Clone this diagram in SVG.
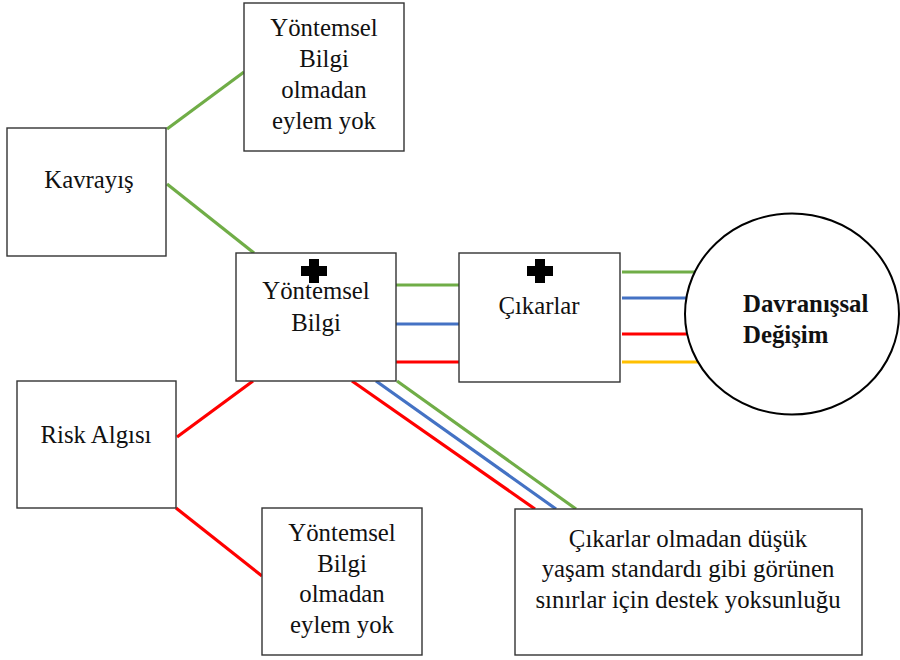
<svg xmlns="http://www.w3.org/2000/svg" width="900" height="660" viewBox="0 0 900 660">
<defs>
<style>
.box{fill:#fff;stroke:#333;stroke-width:1.4}
.t{font-family:"Liberation Serif","Times New Roman",serif;font-size:24.8px;fill:#111;text-anchor:middle}
.b{font-family:"Liberation Serif","Times New Roman",serif;font-size:24.8px;font-weight:bold;fill:#111}
.c{stroke-width:3.2;fill:none}
.g{stroke:#70AD47}.bl{stroke:#4472C4}.r{stroke:#FF0000}.y{stroke:#FFC000}
</style>
<path id="plus" d="M-5,-12H5V-5H13V5H5V12H-5V5H-13V-5H-5Z" fill="#000"/>
</defs>
<rect width="900" height="660" fill="#fff"/>
<g id="connectors">
<line class="c g" x1="167" y1="129" x2="244" y2="72"/>
<line class="c g" x1="167" y1="184" x2="254" y2="253"/>
<line class="c g" x1="396" y1="285" x2="459" y2="285"/>
<line class="c bl" x1="396" y1="324" x2="459" y2="324"/>
<line class="c r" x1="396" y1="362" x2="459" y2="362"/>
<line class="c g" x1="622" y1="272" x2="698" y2="272"/>
<line class="c bl" x1="622" y1="298" x2="687" y2="298"/>
<line class="c r" x1="622" y1="334" x2="687" y2="334"/>
<line class="c y" x1="622" y1="362" x2="698" y2="362"/>
<line class="c r" x1="177" y1="437" x2="253" y2="381"/>
<line class="c r" x1="176" y1="508" x2="262" y2="576"/>
<line class="c r" x1="352" y1="381" x2="535" y2="509"/>
<line class="c bl" x1="376" y1="381" x2="556" y2="509"/>
<line class="c g" x1="397" y1="381" x2="576" y2="509"/>
</g>
<g id="top-box">
<rect class="box" x="244" y="3" width="160" height="148"/>
<text class="t" x="324" y="36">Yöntemsel</text>
<text class="t" x="324" y="67">Bilgi</text>
<text class="t" x="324" y="98">olmadan</text>
<text class="t" x="324" y="129">eylem yok</text>
</g>
<g id="kavrayis">
<rect class="box" x="7" y="128" width="159" height="128"/>
<text class="t" x="89" y="188">Kavrayış</text>
</g>
<g id="yontemsel-bilgi">
<rect class="box" x="236" y="253" width="160" height="128"/>
<use href="#plus" x="314" y="271"/>
<text class="t" x="316" y="299">Yöntemsel</text>
<text class="t" x="316" y="331">Bilgi</text>
</g>
<g id="cikarlar">
<rect class="box" x="459" y="253" width="161" height="129"/>
<use href="#plus" x="540" y="271"/>
<text class="t" x="539" y="314">Çıkarlar</text>
</g>
<g id="davranissal-degisim">
<ellipse cx="792" cy="314" rx="107" ry="100.5" fill="#fff" stroke="#000" stroke-width="2"/>
<text class="b" x="743" y="312">Davranışsal</text>
<text class="b" x="743" y="343">Değişim</text>
</g>
<g id="risk-algisi">
<rect class="box" x="17" y="381" width="159" height="127"/>
<text class="t" x="96" y="443">Risk Algısı</text>
</g>
<g id="bottom-left-box">
<rect class="box" x="262" y="508" width="160" height="147"/>
<text class="t" x="342" y="541">Yöntemsel</text>
<text class="t" x="342" y="572">Bilgi</text>
<text class="t" x="342" y="602">olmadan</text>
<text class="t" x="342" y="633">eylem yok</text>
</g>
<g id="bottom-right-box">
<rect class="box" x="515" y="509" width="347" height="146"/>
<text class="t" x="688" y="547">Çıkarlar olmadan düşük</text>
<text class="t" x="688" y="577">yaşam standardı gibi görünen</text>
<text class="t" x="688" y="608">sınırlar için destek yoksunluğu</text>
</g>
</svg>
